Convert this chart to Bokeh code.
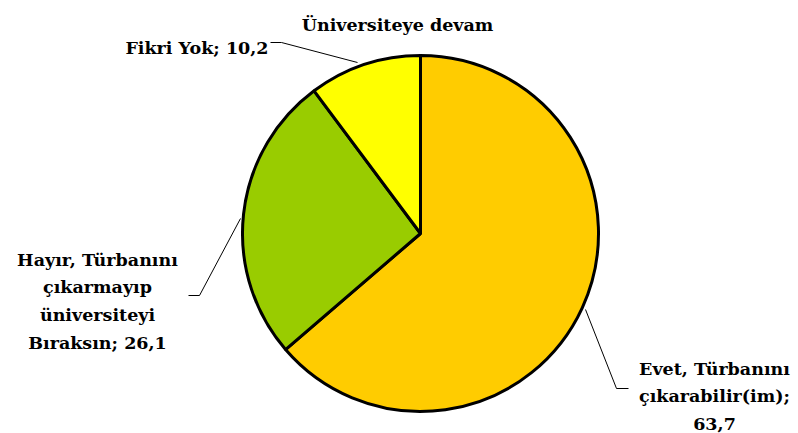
import math
from bokeh.plotting import figure
from bokeh.models import Range1d, ColumnDataSource
from bokeh.core.properties import value
from bokeh.embed import file_html
from bokeh.resources import INLINE

# ---- data ----
title_text = "Üniversiteye devam"
categories = ["Evet", "Hayır", "Fikri Yok"]
values = [63.7, 26.1, 10.2]
colors = ["#FFCC00", "#99CC00", "#FFFF00"]
label_templates = [
    ["Evet, Türbanını", "çıkarabilir(im);", "{v}"],
    ["Hayır, Türbanını", "çıkarmayıp", "üniversiteyi", "Bıraksın; {v}"],
    ["Fikri Yok; {v}"],
]

# ---- layout (screen pixels -> data coords, 1:1) ----
W, H = 798, 433
def sx(x): return x
def sy(y): return H - y

FONT = "DejaVu Serif"
FS = "17.5px"

p = figure(width=W, height=H, output_backend="svg", toolbar_location=None,
           x_range=Range1d(0, W), y_range=Range1d(0, H), min_border=0)
p.axis.visible = False
p.grid.visible = False
p.outline_line_color = None
p.background_fill_color = "white"
p.border_fill_color = "white"

cx, cy, R = sx(420), sy(233), 178
total = sum(values)
starts, ends = [], []
cum = 0.0
for v in values:
    a_end = math.pi / 2 - 2 * math.pi * cum / total
    cum += v
    a_start = math.pi / 2 - 2 * math.pi * cum / total
    starts.append(a_start)
    ends.append(a_end)

src = ColumnDataSource(dict(x=[cx] * len(values), y=[cy] * len(values),
                            start=starts, end=ends, color=colors, cat=categories, val=values))
p.wedge(x="x", y="y", radius=R, radius_units="screen", start_angle="start", end_angle="end",
        fill_color="color", line_color="black", line_width=3, source=src)

# leader lines
leaders = [
    [(585, 309), (616, 388), (628, 388)],
    [(240, 218), (199, 295), (188, 295)],
    [(357, 62), (281, 42), (270, 42)],
]
for pts in leaders:
    p.line([sx(a) for a, b in pts], [sy(b) for a, b in pts], line_color="black", line_width=1)

def fmt(v):
    return ("%.1f" % v).replace(".", ",")

# label anchors: (x, first baseline y, align, line step)
anchors = [
    (714, 368, "center", 27.5),
    (97, 259, "center", 27.7),
    (268, 47, "right", 27.5),
]
for tmpl, v, (ax, ay, al, step) in zip(label_templates, values, anchors):
    lines = [t.replace("{v}", fmt(v)) for t in tmpl]
    p.text(x=[sx(ax)] * len(lines), y=[sy(ay + i * step) for i in range(len(lines))], text=lines,
           text_font=value(FONT), text_font_style="bold", text_font_size=FS,
           text_color="black", text_align=al, text_baseline="alphabetic")

p.text(x=[sx(397)], y=[sy(24)], text=[title_text], text_font=value(FONT), text_font_style="bold",
       text_font_size=FS, text_color="black", text_align="center", text_baseline="alphabetic")

open("out.html", "w").write(file_html(p, INLINE))
